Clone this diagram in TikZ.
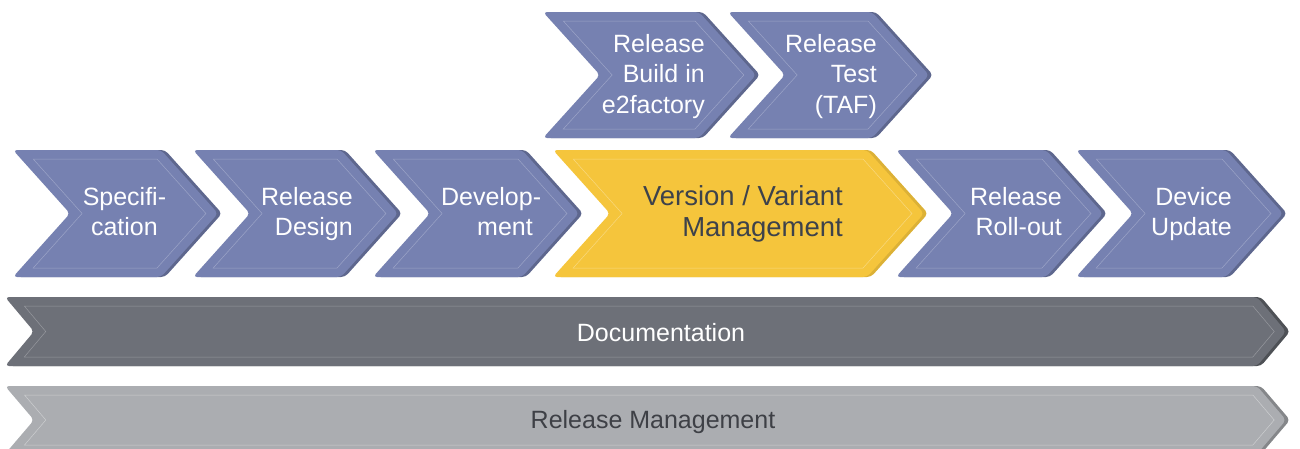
\documentclass[tikz,border=0pt]{standalone}
\usepackage{fontspec}
\usepackage{xcolor}
\setmainfont{Liberation Sans}
\definecolor{phaseblue}{HTML}{7681B1}
\definecolor{focusyellow}{HTML}{F5C53C}
\definecolor{docugray}{HTML}{6D7078}
\definecolor{mgmtgray}{HTML}{ABADB1}
\definecolor{focusink}{HTML}{3D424B}
\definecolor{mgmtink}{HTML}{3E4046}
\newcommand{\rimgap}{9}
% #1 look, #2 left, #3 top, #4 bottom, #5 tip, #6 depth of notch and tip
\newcommand{\chevron}[6]{%
  \pgfmathsetmacro{\chvhalf}{(#4-#3)/2}%
  \pgfmathsetmacro{\chvmid}{(#4+#3)/2}%
  \pgfmathsetmacro{\chvslant}{\rimgap*sqrt((#6)*(#6)+\chvhalf*\chvhalf)/\chvhalf}%
  \pgfmathsetmacro{\chvdepth}{(#6)*(\chvhalf-\rimgap)/\chvhalf}%
  \fill[#1 edge, xshift=4pt] (#2,#3) -- ({#5-#6},#3) -- (#5,\chvmid)
    -- ({#5-#6},#4) -- (#2,#4) -- ({#2+#6},\chvmid) -- cycle;
  \fill[#1 body] (#2,#3) -- ({#5-#6},#3) -- (#5,\chvmid)
    -- ({#5-#6},#4) -- (#2,#4) -- ({#2+#6},\chvmid) -- cycle;
  \draw[#1 rim] ({#2+#6+\chvslant-\chvdepth},{#3+\rimgap})
    -- ({#5-\chvslant-\chvdepth},{#3+\rimgap}) -- ({#5-\chvslant},\chvmid)
    -- ({#5-\chvslant-\chvdepth},{#4-\rimgap})
    -- ({#2+#6+\chvslant-\chvdepth},{#4-\rimgap})
    -- ({#2+#6+\chvslant},\chvmid) -- cycle;
}

\begin{document}
\begin{tikzpicture}[
  x=1pt,
  y=-1pt,
  phase body/.style={fill=phaseblue, rounded corners=4pt},
  phase edge/.style={fill=phaseblue!80!black, rounded corners=4pt},
  phase rim/.style={draw=phaseblue!72!white, line width=0.5pt},
  focus body/.style={fill=focusyellow, rounded corners=4pt},
  focus edge/.style={fill=focusyellow!90!black, rounded corners=4pt},
  focus rim/.style={draw=focusyellow!65!white, line width=0.5pt},
  docu body/.style={fill=docugray, rounded corners=4pt},
  docu edge/.style={fill=docugray!72!black, rounded corners=4pt},
  docu rim/.style={draw=docugray!72!white, line width=0.5pt},
  mgmt body/.style={fill=mgmtgray, rounded corners=4pt},
  mgmt edge/.style={fill=mgmtgray!78!black, rounded corners=4pt},
  mgmt rim/.style={draw=mgmtgray!60!white, line width=0.5pt},
  phase text/.style={font=\fontsize{25}{30.5}\selectfont, text=white,
    align=right, inner sep=0pt, anchor=north east},
  focus text/.style={font=\fontsize{27.5}{31.5}\selectfont, text=focusink,
    align=right, inner sep=0pt, anchor=north east},
  band text/.style={font=\fontsize{25}{30}\selectfont, inner sep=0pt,
    anchor=base}
]
  \useasboundingbox (0,0) rectangle (1300,448);
  \clip (0,0) rectangle (1300,448);

  % ================= upper row: build and test ==========================
  \chevron{phase}{543}{12}{138}{756}{57}
  \chevron{phase}{728}{12}{138}{929}{57}

  \node[phase text] (build) at (705,34) {Release\\Build in\\e2factory};
  \node[phase text] (test) at (877,34) {Release\\Test\\(TAF)};

  % ================= main row: the release process ======================
  \chevron{phase}{13}{150}{277}{218}{57}
  \chevron{phase}{193}{150}{277}{398}{57}
  \chevron{phase}{373}{150}{277}{579}{57}
  \chevron{focus}{553}{150}{277}{924}{57}
  \chevron{phase}{896}{150}{277}{1103}{57}
  \chevron{phase}{1076}{150}{277}{1283}{57}

  % hyphens hang out to the right of the text column
  \node[phase text] (spec) at (158,187) {Specifi\rlap{-}\\cation};
  \node[phase text] (design) at (353,187) {Release\\Design};
  \node[phase text] (devel) at (533,187) {Develop\rlap{-}\\ment};
  \node[focus text] (variant) at (843,185) {Version / Variant\\Management};
  \node[phase text] (rollout) at (1062,187) {Release\\Roll-out};
  \node[phase text] (update) at (1232,187) {Device\\Update};

  % ================= the two bands underneath ===========================
  \chevron{docu}{5}{297}{366}{1286}{29}
  \chevron{mgmt}{5}{386}{454}{1286}{29}

  \node[band text, text=white] (docu) at (661,341) {Documentation};
  \node[band text, text=mgmtink] (mgmt) at (653,428) {Release Management};
\end{tikzpicture}
\end{document}
